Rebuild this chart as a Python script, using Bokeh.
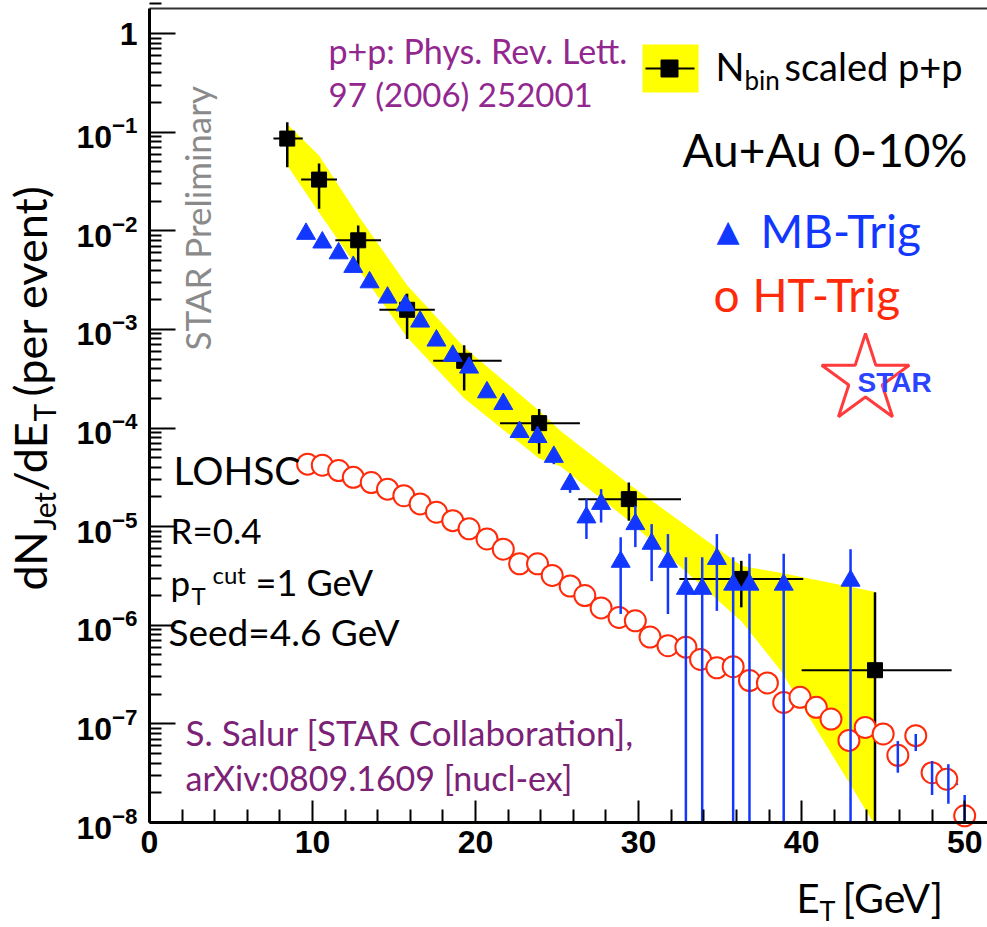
import math
from bokeh.plotting import figure
from bokeh.models import FixedTicker, LogTickFormatter, Label, BoxAnnotation
from bokeh.embed import file_html
from bokeh.resources import INLINE

# ---------------- data ----------------
# N_bin scaled p+p (black squares)
pp_x = [8.45, 10.4, 12.8, 15.8, 19.3, 23.9, 29.4, 36.3, 44.5]
pp_y = [8.6e-2, 3.3e-2, 8.0e-3, 1.58e-3, 4.8e-4, 1.12e-4, 1.9e-5, 2.95e-6, 3.5e-7]
pp_xlo = [7.6, 9.3, 11.4, 14.1, 17.4, 21.5, 26.3, 32.5, 40.0]
pp_xhi = [9.4, 11.5, 14.2, 17.5, 21.6, 26.4, 32.6, 40.1, 49.2]
pp_ylo = [4.4e-2, 1.67e-2, 4.4e-3, 8.0e-4, 2.4e-4, 5.5e-5, 1.15e-5, 1.52e-6, 1e-8]
pp_yhi = [0.126, 4.8e-2, 1.13e-2, 2.3e-3, 6.9e-4, 1.56e-4, 2.8e-5, 4.5e-6, 2.16e-6]

# systematic band of p+p (yellow)
band_x = [8.45, 10.4, 12.8, 15.8, 19.3, 23.9, 25.2, 29.4, 36.3, 38.7, 44.4, 44.55]
band_hi = [0.12, 0.058, 0.0143, 2.8e-3, 6.6e-4, 1.5e-4, 9.4e-5, 2.7e-5, 4.0e-6, 3.4e-6, 2.2e-6, 2.15e-6]
band_lo = [0.046, 0.0153, 4.1e-3, 8.3e-4, 2.0e-4, 4.9e-5, 4.1e-5, 1.15e-5, 1.1e-6, 3.5e-7, 1.0e-8, 1.0e-8]

# MB-Trig (blue triangles)
mb_x = [9.6, 10.6, 11.6, 12.5, 13.5, 14.6, 15.7, 16.6, 17.6, 18.6, 19.6, 20.7,
        21.7, 22.7, 23.8, 24.8, 25.8, 26.8, 27.7, 28.9, 29.8, 30.8, 31.8, 32.9,
        33.9, 34.8, 35.8, 36.8, 38.9, 43.0, 45.9, 47.0, 48.0, 49.0, 50.0]
mb_y = [9.3e-3, 7.6e-3, 5.9e-3, 4.3e-3, 3.0e-3, 2.1e-3, 1.75e-3, 1.2e-3, 7.7e-4, 5.4e-4,
        4.1e-4, 2.3e-4, 1.75e-4, 9.1e-5, 8.1e-5, 5.1e-5, 2.7e-5, 1.24e-5, 1.7e-5, 4.4e-6,
        1.06e-5, 6.7e-6, 4.4e-6, 2.34e-6, 2.34e-6, 4.7e-6, 2.58e-6, 2.58e-6, 2.58e-6, 2.83e-6,
        4.8e-8, 7.6e-8, 3.2e-8, 2.75e-8, 1.17e-8]
mb_lo = [8.8e-3, 7.2e-3, 5.6e-3, 4.0e-3, 2.8e-3, 1.95e-3, 1.6e-3, 1.1e-3, 7.0e-4, 4.9e-4,
         3.7e-4, 2.05e-4, 1.55e-4, 8.0e-5, 7.0e-5, 4.3e-5, 2.2e-5, 7.5e-6, 1.1e-5, 1.3e-6,
         6.2e-6, 2.8e-6, 1.3e-6, 1e-8, 1e-8, 1.4e-6, 1e-8, 1e-8, 1e-8, 1e-8,
         3.2e-8, 5.3e-8, 1.9e-8, 1.55e-8, 1.0e-8]
mb_hi = [9.8e-3, 8.0e-3, 6.2e-3, 4.6e-3, 3.2e-3, 2.25e-3, 1.9e-3, 1.3e-3, 8.4e-4, 5.9e-4,
         4.5e-4, 2.55e-4, 1.95e-4, 1.02e-4, 9.2e-5, 5.9e-5, 3.3e-5, 1.9e-5, 2.4e-5, 7.8e-6,
         1.63e-5, 1.06e-5, 8.4e-6, 4.9e-6, 4.9e-6, 8.4e-6, 4.9e-6, 5.3e-6, 5.3e-6, 5.9e-6,
         6.7e-8, 7.9e-8, 4.2e-8, 3.9e-8, 1.9e-8]

# HT-Trig (red open circles)
ht_x = [9.7, 10.6, 11.6, 12.5, 13.6, 14.6, 15.6, 16.6, 17.6, 18.6, 19.6, 20.7, 21.7,
        22.7, 23.8, 24.7, 25.8, 26.7, 27.7, 28.8, 29.8, 30.7, 31.8, 32.9, 33.8, 34.8,
        35.8, 36.8, 37.9, 38.9, 39.9, 40.9, 41.8, 42.9, 43.9, 45.0, 45.9, 47.0, 48.0,
        48.9, 50.0]
ht_y = [4.3e-5, 4.2e-5, 3.7e-5, 3.16e-5, 2.8e-5, 2.4e-5, 2.06e-5, 1.7e-5, 1.4e-5, 1.15e-5,
        9.5e-6, 7.5e-6, 5.9e-6, 4.2e-6, 4.2e-6, 3.2e-6, 2.5e-6, 2.0e-6, 1.5e-6, 1.2e-6,
        1.11e-6, 7.6e-7, 6.2e-7, 6.0e-7, 4.5e-7, 3.7e-7, 3.8e-7, 2.75e-7, 2.6e-7, 1.65e-7,
        1.86e-7, 1.47e-7, 1.12e-7, 6.8e-8, 9.2e-8, 7.9e-8, 4.8e-8, 7.6e-8, 3.2e-8, 2.75e-8,
        1.17e-8]

x_ticks = [0, 10, 20, 30, 40, 50]
y_ticks = [1e-8, 1e-7, 1e-6, 1e-5, 1e-4, 1e-3, 1e-2, 1e-1, 1]

# ---------------- layout ----------------
W, H = 987, 927
L, R, T, B = 149, 987, 8, 822        # pixel box of the axes
XMAX = 51.4                          # x value at the right edge
YLO, YHI = 1e-8, 1.793               # y values at bottom / top of the axes box
DEC = (B - T) / (math.log10(YHI) - math.log10(YLO))   # pixels per decade

def X(px):
    return (px - L) * XMAX / (R - L)

def Y(py):
    return 10 ** (math.log10(YHI) - (py - T) / DEC)

# the frame covers the whole canvas; the axes are drawn at fixed locations
p = figure(width=W, height=H, x_range=(X(0), X(W)), y_range=(Y(H), Y(0)), y_axis_type="log",
           output_backend="svg", toolbar_location=None,
           min_border_left=0, min_border_right=0, min_border_top=0, min_border_bottom=0)
p.grid.visible = False
p.outline_line_color = None
p.background_fill_color = "white"
p.border_fill_color = "white"

x_minor = [v for v in range(0, 52, 2) if v % 10 != 0]
y_minor = [m * 10.0 ** e for e in range(-8, 1) for m in range(2, 10)]

for ax in (p.xaxis[0], p.yaxis[0]):
    ax.axis_line_width = 3
    ax.major_tick_line_width = 2
    ax.minor_tick_line_width = 2
    ax.major_tick_out = 0
    ax.minor_tick_out = 0
    ax.major_label_text_font = "Liberation Sans"
    ax.major_label_text_font_style = "bold"
    ax.major_label_text_font_size = "32px"
    ax.major_label_text_color = "black"

p.xaxis.ticker = FixedTicker(ticks=x_ticks, minor_ticks=x_minor)
p.xaxis.fixed_location = YLO
p.xaxis.bounds = (0, X(W))
p.xaxis.major_tick_in = 22
p.xaxis.minor_tick_in = 13
p.xaxis.major_label_standoff = 8

p.yaxis.ticker = FixedTicker(ticks=y_ticks, minor_ticks=y_minor)
p.yaxis.formatter = LogTickFormatter(min_exponent=1)
p.yaxis.fixed_location = 0
p.yaxis.bounds = (YLO, Y(T))
p.yaxis.major_tick_in = 26
p.yaxis.minor_tick_in = 12
p.yaxis.major_label_standoff = 12

# top frame line
p.segment(x0=[0], x1=[X(W)], y0=[Y(T)], y1=[Y(T)], line_color="#333333", line_width=2)

# ---------------- marks ----------------
YEL = "#ffff00"
BLUE = "#1238ff"
RED = "#ff2a0a"

p.varea(x=band_x, y1=band_lo, y2=band_hi, fill_color=YEL)

p.segment(x0=pp_xlo, x1=pp_xhi, y0=pp_y, y1=pp_y, line_color="black", line_width=2)
p.segment(x0=pp_x, x1=pp_x, y0=pp_ylo, y1=pp_yhi, line_color="black", line_width=2.5)
p.scatter(pp_x, pp_y, marker="square", size=15, fill_color="black", line_color="black")

p.scatter(mb_x, mb_y, marker="triangle", size=19, fill_color=BLUE, line_color=BLUE)
p.scatter(ht_x, ht_y, marker="circle", size=21, fill_color="white", line_color=RED, line_width=2)
p.segment(x0=mb_x, x1=mb_x, y0=mb_lo, y1=mb_hi, line_color=BLUE, line_width=2.5)

# ---------------- texts ----------------
MID = {"Lato": 0.387, "Liberation Sans": 0.347, "DejaVu Sans": 0.346}

def lab(px, py, text, size, color="black", font="Lato", style="normal", rot=False):
    """px, py: start of the text on its baseline, in pixels of the picture."""
    off = MID[font] * size
    if rot:
        x, y, ang = X(px - off), Y(py), math.pi / 2
    else:
        x, y, ang = X(px), Y(py - off), 0.0
    p.add_layout(Label(x=x, y=y, text=text, text_font=font, text_font_size=f"{size}px",
                       text_color=color, text_font_style=style, text_align="left",
                       text_baseline="middle", angle=ang))

PURPLE = "#92278f"
PURPLE2 = "#7b2277"

# y axis title (rotated, composed with subscripts)
lab(47, 590, "dN", 45, rot=True)
lab(55, 530, "Jet", 30, rot=True)
lab(47, 491, "/dE", 45, rot=True)
lab(55, 421, "T", 30, rot=True)
lab(47, 396, "(per event)", 45, rot=True)

# x axis title
lab(796, 913, "E", 40)
lab(819, 920, "T", 27)
lab(842, 913, "[GeV]", 41)

lab(328, 63, "p+p: Phys. Rev. Lett.", 34, PURPLE)
lab(328, 106, "97 (2006) 252001", 33, PURPLE)

# legend sample
p.add_layout(BoxAnnotation(left=X(642), right=X(698), top=Y(44), bottom=Y(92), level="underlay",
                           fill_color=YEL, fill_alpha=1.0, line_color=None))
p.segment(x0=[X(645)], x1=[X(694)], y0=[Y(68)], y1=[Y(68)], line_color="black", line_width=2)
p.scatter([X(669)], [Y(68)], marker="square", size=17, fill_color="black", line_color="black")
lab(715, 80, "N", 38)
lab(744, 90, "bin", 26)
lab(784, 80, "scaled p+p", 38)

lab(682, 167, "Au+Au 0-10%", 46)
lab(716, 240, "\u25b2", 30, BLUE, font="DejaVu Sans")
lab(760, 248, "MB-Trig", 46, BLUE)
lab(713, 312, "o", 46, RED)
lab(752, 312, "HT-Trig", 46, RED)

# STAR logo
p.scatter([X(865)], [Y(379)], marker="star", size=92, fill_color=None, line_color="#ff3b3b", line_width=3)
lab(857, 392, "STAR", 28, "#2a44ff", font="Liberation Sans", style="bold")

lab(210, 350, "STAR Preliminary", 35, "#8a8a8a", rot=True)

lab(173, 485, "LOHSC", 39)
lab(170, 543, "R=0.4", 35)
lab(170, 595, "p", 35)
lab(191, 604, "T", 24)
lab(212, 583, "cut", 24)
lab(255, 595, "=1 GeV", 36)
lab(168, 645, "Seed=4.6 GeV", 37)

lab(185, 745, "S. Salur [STAR Collaboration],", 35, PURPLE2)
lab(185, 790, "arXiv:0809.1609 [nucl-ex]", 34, PURPLE2)

open("out.html", "w").write(file_html(p, INLINE))
